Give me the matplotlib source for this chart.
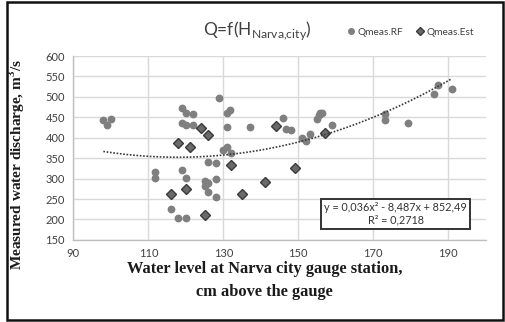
import matplotlib
matplotlib.use("Agg")
import matplotlib.pyplot as plt
import numpy as np
from matplotlib.lines import Line2D
from matplotlib.patches import Rectangle

# ---- data ----
rf_x = [98, 99, 100, 111.8, 111.8, 116, 118, 120.1, 118.9, 120.1, 122, 118.9, 120.1, 122,
        118.9, 120.1, 125.2, 125.9, 125, 125.9, 126, 128, 128, 128, 128.9, 131, 131.8, 131,
        130, 131, 132, 137.2, 145.9, 146.8, 148, 151, 152.1, 153, 155, 155.5, 155.7, 156.3,
        159, 173, 173, 179.2, 186.1, 187.2, 191]
rf_y = [443, 431, 446, 316, 302, 226, 203, 203, 472, 461, 457, 435, 430, 432,
        320, 302, 293, 289, 281, 267, 340, 339, 299, 256, 498, 461, 469, 426,
        371, 378, 362, 426, 449, 422, 418, 399, 392, 410, 447, 455, 460, 460,
        431, 458, 444, 435, 506, 529, 519]

est_x = [118, 121, 124.1, 126, 116, 120.1, 125, 132, 135.1, 141.2, 144, 149, 157]
est_y = [388, 377, 425, 406, 263, 275, 211, 334, 262, 292, 429, 325, 412]

# polynomial trend coefficients as printed on the chart
trend_a, trend_b, trend_c = 0.036, -8.487, 852.49
trend_x_range = [98, 191]

x_ticks = [90, 110, 130, 150, 170, 190]
y_ticks = [150, 200, 250, 300, 350, 400, 450, 500, 550, 600]

title = r"Q=f(H$_{\mathregular{Narva{,}city}}$)"
x_label = "Water level at Narva city gauge station,\ncm above the gauge"
y_label = "Measured water discharge, m$^{\\mathregular{3}}$/s"
eq_text = "y = 0,036x² - 8,487x + 852,49\nR² = 0,2718"
series_names = ["Qmeas.RF", "Qmeas.Est"]

SANS = ["Lato", "DejaVu Sans"]
SERIF = ["Liberation Serif", "DejaVu Serif"]

fig = plt.figure(figsize=(5.06, 3.22), dpi=100)
ax = fig.add_axes([0.145, 0.255, 0.815, 0.571])

ax.set_xlim(90, 200)
ax.set_ylim(150, 600)
ax.set_xticks(x_ticks)
ax.set_yticks(y_ticks)
ax.grid(True, color="#d9d9d9", linewidth=1.0)
ax.set_axisbelow(True)
for s in ["top", "right"]:
    ax.spines[s].set_visible(False)
for s in ["left", "bottom"]:
    ax.spines[s].set_color("#bfbfbf")
    ax.spines[s].set_linewidth(1.0)
ax.tick_params(length=0, labelsize=8, colors="#404040", pad=6)
for lab in ax.get_xticklabels() + ax.get_yticklabels():
    lab.set_family(SANS)

ax.plot(rf_x, rf_y, linestyle="none", marker="o", markersize=4.6,
        markerfacecolor="#7f7f7f", markeredgecolor="#7f7f7f", zorder=3)
ax.plot(est_x, est_y, linestyle="none", marker="D", markersize=4.9,
        markerfacecolor="#6a6a6a", markeredgecolor="#3a3a3a", markeredgewidth=1.0, zorder=4)

tx = np.linspace(trend_x_range[0], trend_x_range[1], 200)
ty = trend_a * tx**2 + trend_b * tx + trend_c
ax.plot(tx, ty, linestyle=(0, (1, 1)), color="#3a3a3a", linewidth=1.2, zorder=5)

ax.text(0.782, 0.142, eq_text, transform=ax.transAxes, ha="center", va="center",
        fontsize=7.8, family=SANS, color="#333333", linespacing=1.15, zorder=6,
        bbox=dict(boxstyle="square,pad=0.3", facecolor="white", edgecolor="#333333",
                  linewidth=1.4))

fig.text(0.508, 0.905, title, ha="center", va="center", fontsize=12.5,
         family=SANS, color="#404040")

handles = [Line2D([], [], linestyle="none", marker="o", markersize=4,
                  markerfacecolor="#7f7f7f", markeredgecolor="#7f7f7f"),
           Line2D([], [], linestyle="none", marker="D", markersize=3.6,
                  markerfacecolor="#6a6a6a", markeredgecolor="#3a3a3a")]
leg = fig.legend(handles, series_names, loc="center", bbox_to_anchor=(0.81, 0.9),
                 ncol=2, frameon=False, handletextpad=0.1,
                 columnspacing=1.2, handlelength=1.0, prop={"family": SANS, "size": 7.3})
for t in leg.get_texts():
    t.set_color("#404040")

fig.text(0.523, 0.128, x_label, ha="center", va="center", fontsize=11.8,
         family=SERIF, fontweight="bold", linespacing=1.6, color="#1a1a1a")
fig.text(0.034, 0.49, y_label, ha="center", va="center", rotation=90, fontsize=11,
         family=SERIF, fontweight="bold", color="#1a1a1a")

fig.patches.append(Rectangle((7 / 506, 1 - 320 / 322), 496 / 506, 318 / 322,
                             transform=fig.transFigure, fill=False,
                             edgecolor="#111111", linewidth=1.8))

fig.savefig("out.png", dpi=100)
